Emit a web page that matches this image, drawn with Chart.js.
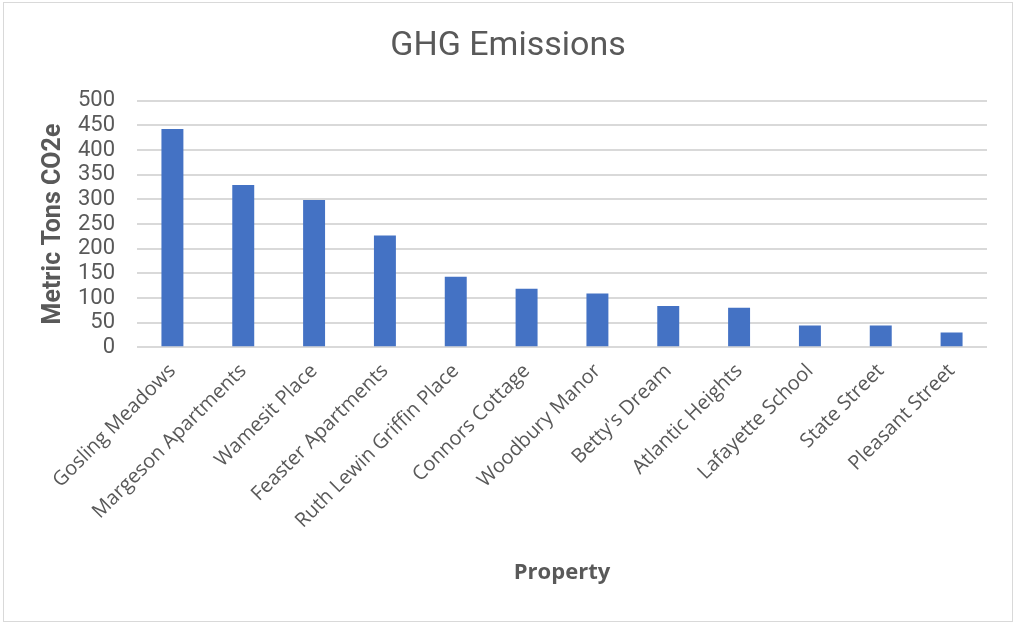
<!DOCTYPE html>
<html>
<head>
<meta charset="utf-8">
<title>GHG Emissions</title>
<script src="https://cdn.jsdelivr.net/npm/chart.js@4.4.1/dist/chart.umd.min.js"></script>
<style>
    html, body { margin: 0; padding: 0; background: #ffffff; }
    #frame {
        position: absolute;
        left: 3px; top: 2px;
        width: 1008px; height: 618px;
        border: 1px solid #d9d9d9;
        background: #ffffff;
    }
    #chart { display: block; }
</style>
</head>
<body>
<div id="frame"><canvas id="chart" width="1008" height="618"></canvas></div>
<script>
// Emissions per property, metric tons CO2e
const properties = [
    'Gosling Meadows', 'Margeson Apartments', 'Wamesit Place', 'Feaster Apartments',
    'Ruth Lewin Griffin Place', 'Connors Cottage', 'Woodbury Manor', "Betty's Dream",
    'Atlantic Heights', 'Lafayette School', 'State Street', 'Pleasant Street'
];
const emissions = [443, 329, 299, 227, 143, 119, 109, 84, 80, 44, 44, 30];
const yTicks = [0, 50, 100, 150, 200, 250, 300, 350, 400, 450, 500];

const TEXT = '#595959';

// fixed plot box inside the canvas; side padding kept equal so the title stays centred
const SIDE_PAD = 25;
const AREA = { left: 133, bottom: 344.3 };
const CANVAS_H = 618;

const ctx = document.getElementById('chart');
new Chart(ctx, {
    type: 'bar',
    data: {
        labels: properties,
        datasets: [{
            label: 'GHG Emissions',
            data: emissions,
            backgroundColor: '#4472c4',
            borderWidth: 0,
            barPercentage: 0.31,
            categoryPercentage: 1
        }]
    },
    options: {
        responsive: false,
        animation: false,
        layout: { padding: { left: SIDE_PAD, right: SIDE_PAD, top: 0, bottom: 0 } },
        plugins: {
            legend: { display: false },
            tooltip: { enabled: false },
            title: {
                display: true,
                text: 'GHG Emissions',
                color: TEXT,
                font: { family: 'Roboto, sans-serif', size: 34, weight: 'normal' },
                padding: { top: 23, bottom: 34 }
            }
        },
        scales: {
            x: {
                grid: { display: false },
                border: { display: false },
                ticks: {
                    color: TEXT,
                    font: { family: '"Open Sans", sans-serif', size: 20 },
                    minRotation: 45,
                    maxRotation: 45,
                    autoSkip: false,
                    padding: 4
                },
                title: {
                    display: true,
                    text: 'Property',
                    color: TEXT,
                    font: { family: '"Open Sans", sans-serif', size: 22, weight: 'bold' },
                    padding: { top: 0, bottom: 35 }
                },
                afterFit: scale => { scale.height = CANVAS_H - AREA.bottom; }
            },
            y: {
                min: 0,
                max: 500,
                afterBuildTicks: axis => { axis.ticks = yTicks.map(v => ({ value: v })); },
                grid: { color: '#d9d9d9', lineWidth: 2, drawTicks: false },
                border: { display: false },
                ticks: {
                    color: TEXT,
                    font: { family: 'Roboto, sans-serif', size: 22 },
                    autoSkip: false,
                    padding: 22
                },
                title: {
                    display: true,
                    text: 'Metric Tons CO2e',
                    color: TEXT,
                    font: { family: 'Roboto, sans-serif', size: 25, weight: 'bold' },
                    padding: { top: 35 - SIDE_PAD, bottom: 0 }
                },
                afterFit: scale => { scale.width = AREA.left - SIDE_PAD; }
            }
        }
    }
});
</script>
</body>
</html>
